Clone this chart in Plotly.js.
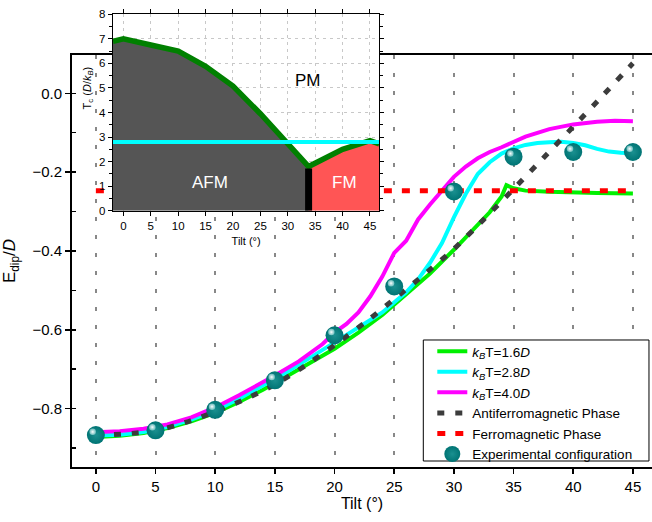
<!DOCTYPE html>
<html>
<head>
<meta charset="utf-8">
<script src="https://cdn.plot.ly/plotly-3.0.1.min.js"></script>
<style>html,body{margin:0;padding:0;background:#fff;}#chart{width:652px;height:522px;}</style>
</head>
<body>
<div id="chart"></div>
<script>
// ---------- data (main panel) ----------
const tiltK16 = [0, 2, 4, 6, 8, 10, 12, 14, 16, 18, 20, 22, 24, 26, 28, 30, 32, 33, 34, 34.4, 35, 36, 38, 40, 42, 45];
const edipK16 = [-0.872, -0.869, -0.862, -0.849, -0.832, -0.811, -0.783, -0.752, -0.718, -0.684, -0.648, -0.607, -0.562, -0.510, -0.457, -0.397, -0.336, -0.302, -0.262, -0.233, -0.241, -0.247, -0.250, -0.252, -0.253, -0.254];

const tiltK28 = [0, 2, 4, 6, 8, 10, 12, 14, 16, 18, 20, 22, 24, 26, 27, 28, 29, 30, 31, 32, 33, 34, 35, 36, 37, 38, 39, 40, 41, 42, 43, 44, 45];
const edipK28 = [-0.868, -0.866, -0.859, -0.846, -0.828, -0.805, -0.775, -0.742, -0.707, -0.670, -0.632, -0.594, -0.556, -0.505, -0.472, -0.430, -0.380, -0.315, -0.255, -0.205, -0.175, -0.153, -0.140, -0.131, -0.126, -0.124, -0.123, -0.126, -0.132, -0.141, -0.148, -0.151, -0.152];

const tiltK40 = [0, 2, 4, 6, 8, 10, 12, 14, 15, 17, 19, 20, 21, 22, 23, 24, 25, 26, 27, 28, 29, 30, 31, 32, 33, 34, 36, 38, 40, 42, 43.5, 45];
const edipK40 = [-0.860, -0.857, -0.851, -0.840, -0.822, -0.797, -0.766, -0.733, -0.716, -0.680, -0.636, -0.607, -0.585, -0.556, -0.515, -0.465, -0.405, -0.374, -0.320, -0.282, -0.245, -0.212, -0.186, -0.165, -0.149, -0.137, -0.110, -0.091, -0.079, -0.072, -0.070, -0.071];

const tiltAFM = [0, 2.5, 5, 7.5, 10, 12.5, 15, 17.5, 20, 22.5, 25, 27.5, 30, 32.5, 35, 37.5, 40, 42.5, 45];
const edipAFM = [-0.868, -0.864, -0.856, -0.835, -0.808, -0.776, -0.739, -0.692, -0.639, -0.583, -0.522, -0.460, -0.395, -0.320, -0.243, -0.164, -0.085, -0.005, 0.076];

const tiltFM = [0, 45];
const edipFM = [-0.247, -0.247];

const tiltExp = [0, 5, 10, 15, 20, 25, 30, 35, 40, 45];
const edipExp = [-0.867, -0.855, -0.803, -0.728, -0.614, -0.490, -0.249, -0.161, -0.149, -0.149];

// ---------- data (inset: phase diagram) ----------
const tcTilt = [-1.9, 0, 5, 10, 15, 20, 25, 30, 33.8, 40, 45, 46.7];
const tcValue = [6.9, 7.0, 6.75, 6.5, 5.88, 5.08, 3.95, 2.75, 1.8, 2.5, 2.85, 2.72];
const boundaryTilt = 33.8;       // AFM / FM boundary
const boundaryTop = 1.72;
const tcLineTilt = [-1.9, 46.7];  // kBT = 2.8D line
const tcLineValue = [2.8, 2.8];

const labelsLegend = [
  '<i>k</i><sub><i>B</i></sub>T=1.6<i>D</i>',
  '<i>k</i><sub><i>B</i></sub>T=2.8<i>D</i>',
  '<i>k</i><sub><i>B</i></sub>T=4.0<i>D</i>',
  'Antiferromagnetic Phase',
  'Ferromagnetic Phase',
  'Experimental configuration'
];

// ---------- layout constants ----------
const FONT = 'Liberation Sans, Arial, Helvetica, sans-serif';
const xMainRange = [-2, 46.6];
const yMainRange = [-0.948, 0.097];
const pxPerX = 580 / (xMainRange[1] - xMainRange[0]);
const pxPerY = 412 / (yMainRange[1] - yMainRange[0]);
const hl = 3.2; // highlight offset in px

const afmX = [], afmY = [], fmX = [], fmY = [];
tcTilt.forEach((t, i) => {
  if (t <= boundaryTilt) { afmX.push(t); afmY.push(tcValue[i]); }
  if (t >= boundaryTilt) { fmX.push(t); fmY.push(tcValue[i]); }
});

const traces = [
  {x: tiltK16, y: edipK16, name: labelsLegend[0], mode: 'lines', line: {color: '#00F000', width: 4}},
  {x: tiltK28, y: edipK28, name: labelsLegend[1], mode: 'lines', line: {color: '#00FFFF', width: 4}},
  {x: tiltK40, y: edipK40, name: labelsLegend[2], mode: 'lines', line: {color: '#FF00FF', width: 4}},
  {x: tiltAFM, y: edipAFM, name: labelsLegend[3], mode: 'lines', line: {color: '#3c3c3c', width: 5, dash: '7px,11px', shape: 'spline', smoothing: 0.6}},
  {x: tiltFM, y: edipFM, name: labelsLegend[4], mode: 'lines', line: {color: '#FF0000', width: 5, dash: '8px,10px'}},
  {x: tiltExp, y: edipExp, name: labelsLegend[5], mode: 'markers',
   marker: {size: 18, color: '#007474', gradient: {type: 'radial', color: '#1a9090'}, line: {width: 0}}},
  {x: tiltExp, y: edipExp, xaxis: 'x3', yaxis: 'y3', mode: 'markers', showlegend: false, hoverinfo: 'skip',
   marker: {size: 6.5, color: 'rgba(150,215,215,0.7)', gradient: {type: 'radial', color: '#ffffff'}, line: {width: 0}}},
  // inset
  {x: afmX, y: afmY, xaxis: 'x2', yaxis: 'y2', mode: 'lines', fill: 'tozeroy', fillcolor: '#555555', line: {width: 0}, showlegend: false},
  {x: fmX, y: fmY, xaxis: 'x2', yaxis: 'y2', mode: 'lines', fill: 'tozeroy', fillcolor: '#FF5555', line: {width: 0}, showlegend: false},
  {x: tcTilt, y: tcValue, xaxis: 'x2', yaxis: 'y2', mode: 'lines', line: {color: '#008000', width: 5.5}, showlegend: false},
  {x: [boundaryTilt, boundaryTilt], y: [0, boundaryTop], xaxis: 'x2', yaxis: 'y2', mode: 'lines', line: {color: '#000000', width: 7}, showlegend: false},
  {x: tcLineTilt, y: tcLineValue, xaxis: 'x2', yaxis: 'y2', mode: 'lines', line: {color: '#00FFFF', width: 4}, showlegend: false}
];

const axisLineMain = {showline: true, linecolor: '#000', linewidth: 2, zeroline: false,
  ticks: 'outside', ticklen: 5, tickwidth: 1.5, tickcolor: '#000',
  tickfont: {family: FONT, size: 15, color: '#000'}};

const insetAxis = {showline: true, linecolor: '#000', linewidth: 1.2, mirror: 'allticks', zeroline: false,
  ticks: 'outside', ticklen: 4, tickwidth: 1, tickcolor: '#000',
  showgrid: true, gridcolor: '#c8c8c8', gridwidth: 1, griddash: '3px,4px',
  tickfont: {family: FONT, size: 11.5, color: '#000'}};

const layout = {
  width: 652, height: 522,
  margin: {l: 72, r: 0, t: 10, b: 55},
  paper_bgcolor: '#fff', plot_bgcolor: '#fff',
  font: {family: FONT, color: '#000'},
  xaxis: Object.assign({}, axisLineMain, {domain: [0, 1], range: xMainRange, dtick: 5, tick0: 0, mirror: true,
    showgrid: true, gridcolor: '#888', gridwidth: 2, griddash: '4px,14px',
    title: {text: 'Tilt (°)', font: {family: FONT, size: 16}, standoff: 4}}),
  yaxis: Object.assign({}, axisLineMain, {domain: [0, 0.9015], range: yMainRange, dtick: 0.2, tick0: 0, tickformat: '.1f',
    showgrid: false, minor: {dtick: 0.1, ticks: 'inside', ticklen: 4, tickwidth: 1.5, tickcolor: '#000', showgrid: false},
    title: {text: 'E<sub>dip</sub>/<i>D</i>', font: {family: FONT, size: 17}, standoff: 12}}),
  xaxis3: {overlaying: 'x', range: [xMainRange[0] + hl / pxPerX, xMainRange[1] + hl / pxPerX], visible: false},
  yaxis3: {overlaying: 'y', range: [yMainRange[0] - hl / pxPerY, yMainRange[1] - hl / pxPerY], visible: false},
  xaxis2: Object.assign({}, insetAxis, {anchor: 'y2', domain: [0.0707, 0.5298], range: [-1.9, 46.7], dtick: 5, tick0: 0,
    title: {text: 'Tilt (°)', font: {family: FONT, size: 11}, standoff: 6}}),
  yaxis2: Object.assign({}, insetAxis, {anchor: 'x2', domain: [0.5608, 0.9906], range: [0, 8], dtick: 1, tick0: 0,
    minor: {dtick: 0.5, ticks: 'outside', ticklen: 3, tickwidth: 1, tickcolor: '#000', showgrid: false}}),
  showlegend: true,
  legend: {x: 0.6212, y: 0.2867, xanchor: 'left', yanchor: 'top', bgcolor: 'rgba(0,0,0,0)', borderwidth: 0,
    font: {family: FONT, size: 13.5, color: '#000'}, tracegroupgap: 0},
  shapes: [
    {type: 'rect', xref: 'paper', yref: 'paper', x0: 0.6057, x1: 0.9948, y0: 0.0131, y1: 0.2779,
     line: {color: '#000', width: 1}, fillcolor: '#fff', layer: 'above'}
  ],
  annotations: [
    {xref: 'x2', yref: 'y2', x: 33.7, y: 5.32, text: 'PM', showarrow: false, font: {family: FONT, size: 17, color: '#000'}},
    {xref: 'x2', yref: 'y2', x: 15.8, y: 1.13, text: 'AFM', showarrow: false, font: {family: FONT, size: 17, color: '#fff'}},
    {xref: 'x2', yref: 'y2', x: 40.3, y: 1.13, text: 'FM', showarrow: false, font: {family: FONT, size: 17, color: '#fff'}},
    {xref: 'paper', yref: 'paper', x: 0.028, y: 0.829, xanchor: 'center', yanchor: 'middle', textangle: -90, showarrow: false,
     text: 'T<sub>c</sub> (<i>D</i>/<i>k</i><sub><i>B</i></sub>)', font: {family: FONT, size: 11, color: '#000'}}
  ]
};

Plotly.newPlot('chart', traces, layout, {displayModeBar: false, staticPlot: true});
</script>
</body>
</html>
